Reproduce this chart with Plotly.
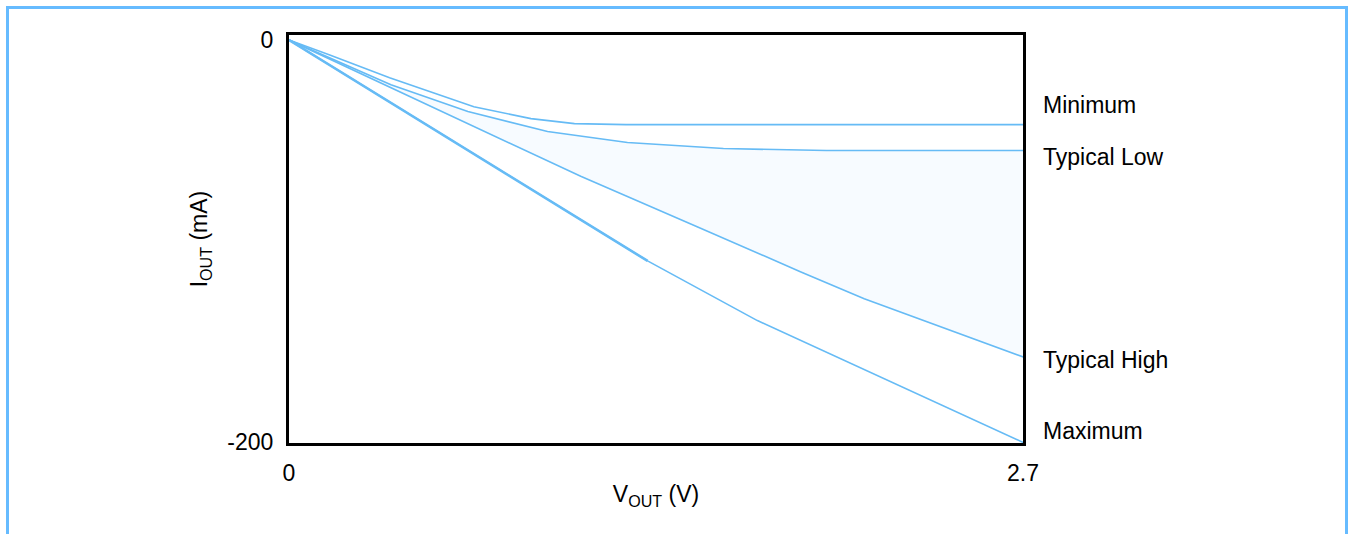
import plotly.graph_objects as go

# Data (V in volts, I in mA)
min_v = [0, 0.15, 0.37, 0.68, 0.89, 1.05, 1.24, 2.70]
min_i = [0, -7.4, -18.8, -33.2, -39.1, -41.6, -42.1, -42.1]

tlow_v = [0, 0.375, 0.658, 0.951, 1.245, 1.598, 1.977, 2.72]
tlow_i = [0, -22.3, -35.6, -45.5, -51.0, -54.0, -55.0, -55.0]

thigh_v = [0, 1.073, 1.514, 1.881, 2.116, 2.715]
thigh_i = [0, -67.8, -93.6, -115.3, -128.7, -158.4]

max_v = [0, 1.319, 1.723, 2.705]
max_i = [0, -109.9, -139.6, -200.5]

x_ticks = [0, 2.7]
x_ticktext = ["0", "2.7"]
y_ticks = [0, -200]
y_ticktext = ["0", "-200"]

labels = ["Minimum", "Typical Low", "Typical High", "Maximum"]
label_y = [-32.2, -58.4, -159.4, -194.6]

W, H = 1350, 534
L, R, T, B = 289, 1023, 35, 443
LINE = "#66bbf5"
FONT = "Liberation Sans, Arial, sans-serif"
FS = 23

fig = go.Figure()
fig.add_trace(go.Scatter(x=min_v, y=min_i, mode="lines", line=dict(color=LINE, width=1.6), cliponaxis=False))
fig.add_trace(go.Scatter(x=tlow_v, y=tlow_i, mode="lines", line=dict(color=LINE, width=1.6), cliponaxis=False))
fig.add_trace(go.Scatter(x=thigh_v, y=thigh_i, mode="lines", line=dict(color=LINE, width=1.6),
                         fill="tonexty", fillcolor="rgba(200,230,255,0.15)", cliponaxis=False))
fig.add_trace(go.Scatter(x=max_v, y=max_i, mode="lines", line=dict(color=LINE, width=1.6), cliponaxis=False))
fig.add_trace(go.Scatter(x=max_v[:2], y=max_i[:2], mode="lines", line=dict(color=LINE, width=2.6), cliponaxis=False))

pw, ph = R - L, B - T
def px_x(p):
    return (p - L) / pw
def px_y(p):
    return (B - p) / ph

fig.add_shape(type="rect", xref="paper", yref="paper",
              x0=px_x(7.5), x1=px_x(1346.5), y0=px_y(560), y1=px_y(7.5),
              line=dict(color="#66bbff", width=3), fillcolor="rgba(0,0,0,0)", layer="below")

for txt, yv in zip(labels, label_y):
    fig.add_annotation(x=1, xref="paper", y=yv, yref="y", text=txt, showarrow=False,
                       xanchor="left", xshift=18, font=dict(family=FONT, size=FS, color="black"))

fig.update_layout(
    width=W, height=H,
    margin=dict(l=L, r=W - R, t=T, b=H - B, pad=0),
    paper_bgcolor="white", plot_bgcolor="white",
    showlegend=False,
    font=dict(family=FONT, size=FS, color="black"),
    xaxis=dict(range=[0, 2.7], tickvals=x_ticks, ticktext=x_ticktext, showgrid=False, zeroline=False,
               showline=True, mirror=True, linecolor="black", linewidth=3, ticks="", ticklabelstandoff=7,
               title=dict(text="V<sub>OUT</sub> (V)", standoff=2, font=dict(size=FS))),
    yaxis=dict(range=[-200.5, 2.5], tickvals=y_ticks, ticktext=y_ticktext, showgrid=False, zeroline=False,
               showline=True, mirror=True, linecolor="black", linewidth=3, ticks="", ticklabelstandoff=8,
               title=dict(text="I<sub>OUT</sub> (mA)", standoff=14, font=dict(size=FS))),
)

fig.write_html("out.html", config={"displayModeBar": False},
               post_script="document.body.style.margin='0';document.body.style.overflow='hidden';")
